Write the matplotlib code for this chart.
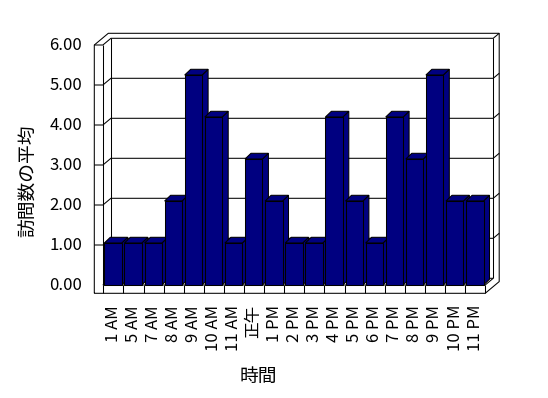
import matplotlib
matplotlib.use('Agg')
import matplotlib.pyplot as plt
from matplotlib.patches import Polygon

plt.rcParams['font.family'] = ['Noto Sans CJK JP', 'DejaVu Sans']

# データ
categories = ['1 AM', '5 AM', '7 AM', '8 AM', '9 AM', '10 AM', '11 AM', '正午',
              '1 PM', '2 PM', '3 PM', '4 PM', '5 PM', '6 PM', '7 PM', '8 PM',
              '9 PM', '10 PM', '11 PM']
visits = [1.05, 1.05, 1.05, 2.10, 5.25, 4.20, 1.05, 3.15,
          2.10, 1.05, 1.05, 4.20, 2.10, 1.05, 4.20, 3.15,
          5.25, 2.10, 2.10]
y_ticks = [0, 1, 2, 3, 4, 5, 6]
x_title = '時間'
y_title = '訪問数の平均'

W, H = 548, 398
BAR_COLOR = '#000080'
LW = 0.75

fig = plt.figure(figsize=(W / 100, H / 100), dpi=100)
ax = fig.add_axes([0, 0, 1, 1])

# 前面の平面: カテゴリ0の左端=103.3px, 1カテゴリ=20.1px, 値0=285px, 1単位=40px
X0, STEP, Y0, UNIT = 103.3, 20.1, 285.0, 40.0
ax.set_xlim(-X0 / STEP, (W - X0) / STEP)
ax.set_ylim((Y0 - H) / UNIT, Y0 / UNIT)
ax.axis('off')


def px(x, y):
    # 画面上のピクセル位置 -> データ座標（枠の描画用）
    return ((x - X0) / STEP, (Y0 - y) / UNIT)


def line(points, **kw):
    xs, ys = zip(*[px(x, y) for x, y in points])
    ax.plot(xs, ys, color='black', lw=LW, solid_joinstyle='miter',
            solid_capstyle='butt', zorder=1, **kw)


# 奥行き
DX, DY = 8.0, 6.7      # 前面 -> 背面壁
SX, SY = 6.0, 5.0      # 背面壁の厚み
WALL_L = 94.3          # 左壁の外側
WALL_I = 102.9         # 左壁の内側
FLOOR_B = 293.3        # 床の下端
RIGHT = X0 + STEP * len(categories)
TOP = Y0 - UNIT * y_ticks[-1]

# 外形
line([(WALL_L, FLOOR_B), (WALL_L, TOP), (WALL_L + DX + SX, TOP - DY - SY),
      (RIGHT + DX + SX, TOP - DY - SY), (RIGHT + DX + SX, FLOOR_B - DY - SY),
      (RIGHT, FLOOR_B), (WALL_L, FLOOR_B)])
# 左壁の前面
line([(WALL_I, TOP), (WALL_I, Y0)])
# 背面壁
line([(WALL_I + DX, TOP - DY), (WALL_I + DX, Y0 - DY)])
line([(RIGHT + DX, TOP - DY), (RIGHT + DX, Y0 - DY)])
# 目盛線
for v in y_ticks[1:]:
    yy = Y0 - UNIT * v
    line([(WALL_L, yy), (WALL_I, yy), (WALL_I + DX, yy - DY),
          (RIGHT + DX, yy - DY), (RIGHT + DX + SX, yy - DY - SY)])
# 床
line([(WALL_I, Y0), (WALL_I + DX, Y0 - DY), (RIGHT + DX, Y0 - DY)])
line([(WALL_I, Y0), (RIGHT, Y0), (RIGHT + DX, Y0 - DY)])
for k in range(len(categories) + 1):
    line([(X0 + STEP * k, Y0), (X0 + STEP * k, FLOOR_B)])

# 棒（左から順に描画）
bw = 17.4 / STEP
bx0 = 1.0 / STEP
bdx, bdy = 6.0 / STEP, 5.7 / UNIT
for i, v in enumerate(visits):
    x = i + bx0
    side = [(x + bw, 0), (x + bw + bdx, bdy), (x + bw + bdx, v + bdy), (x + bw, v)]
    top = [(x, v), (x + bw, v), (x + bw + bdx, v + bdy), (x + bdx, v + bdy)]
    front = [(x, 0), (x + bw, 0), (x + bw, v), (x, v)]
    for poly in (side, top, front):
        ax.add_patch(Polygon(poly, closed=True, facecolor=BAR_COLOR,
                             edgecolor='black', lw=LW, joinstyle='miter',
                             zorder=3 + i))

# 目盛ラベル
for v in y_ticks:
    ax.text((82 - X0) / STEP, v, '%.2f' % v, ha='right', va='center', fontsize=12)
for i, c in enumerate(categories):
    ax.text(i + 0.5, (Y0 - 305) / UNIT, c, rotation=90, ha='center', va='top',
            fontsize=12)

fig.text(258 / W, 1 - 376 / H, x_title, ha='center', va='center', fontsize=13.5)
fig.text(29 / W, 1 - 181 / H, y_title, rotation=90, ha='center', va='center',
         fontsize=13.5)

fig.savefig('out.png', dpi=100)
